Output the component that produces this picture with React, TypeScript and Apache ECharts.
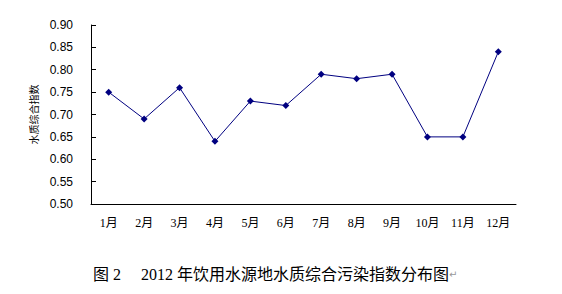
import React, { useEffect, useRef } from "react";
import * as echarts from "echarts";

const categories = ["1月", "2月", "3月", "4月", "5月", "6月", "7月", "8月", "9月", "10月", "11月", "12月"];
const indexValues = [0.75, 0.69, 0.76, 0.64, 0.73, 0.72, 0.79, 0.78, 0.79, 0.65, 0.65, 0.84];
const yAxisName = "水质综合指数";
const captionText = "图 2\u3000 2012 年饮用水源地水质综合污染指数分布图";

export default function App() {
  const ref = useRef<HTMLDivElement>(null);
  useEffect(() => {
    if (!ref.current) return;
    const chart = echarts.init(ref.current, undefined, { renderer: "svg" });
    chart.setOption({
      animation: false,
      backgroundColor: "#ffffff",
      grid: { left: 91, right: 46, top: 25, bottom: 90, containLabel: false },
      title: {
        left: 88,
        top: 261,
        text: "{a|" + captionText + "}{b|↵}",
        textStyle: {
          fontWeight: "normal",
          rich: {
            a: { fontFamily: "Liberation Serif, Noto Sans CJK SC", fontSize: 16, fontWeight: "normal", color: "#000" },
            b: { fontFamily: "DejaVu Sans", fontSize: 10, fontWeight: "normal", color: "#999" },
          },
        },
      },
      xAxis: {
        type: "category",
        data: categories,
        boundaryGap: true,
        axisLine: { lineStyle: { color: "#000", width: 1 } },
        axisTick: { inside: true, length: 4, lineStyle: { color: "#000" } },
        axisLabel: { color: "#000", fontSize: 12, margin: 13, fontFamily: "Liberation Serif, Noto Sans CJK SC" },
        splitLine: { show: false },
      },
      yAxis: {
        type: "value",
        min: 0.5,
        max: 0.9,
        interval: 0.05,
        name: yAxisName,
        nameLocation: "middle",
        nameRotate: 90,
        nameGap: 47,
        nameTextStyle: { color: "#000", fontSize: 10, fontFamily: "Noto Sans CJK SC" },
        axisLine: { show: true, lineStyle: { color: "#000", width: 1 } },
        axisTick: { show: true, inside: true, length: 5, lineStyle: { color: "#000" } },
        axisLabel: {
          color: "#000",
          fontSize: 12,
          margin: 18,
          fontFamily: "Liberation Sans",
          formatter: (v: number) => v.toFixed(2),
        },
        splitLine: { show: false },
      },
      series: [
        {
          type: "line",
          data: indexValues,
          symbol: "diamond",
          symbolSize: 7,
          lineStyle: { color: "#000080", width: 1 },
          itemStyle: { color: "#000080" },
        },
      ],
    });
    return () => chart.dispose();
  }, []);
  return (
    <div
      ref={ref}
      style={{ position: "absolute", left: 0, top: 0, width: 562, height: 294, background: "#fff" }}
    />
  );
}
